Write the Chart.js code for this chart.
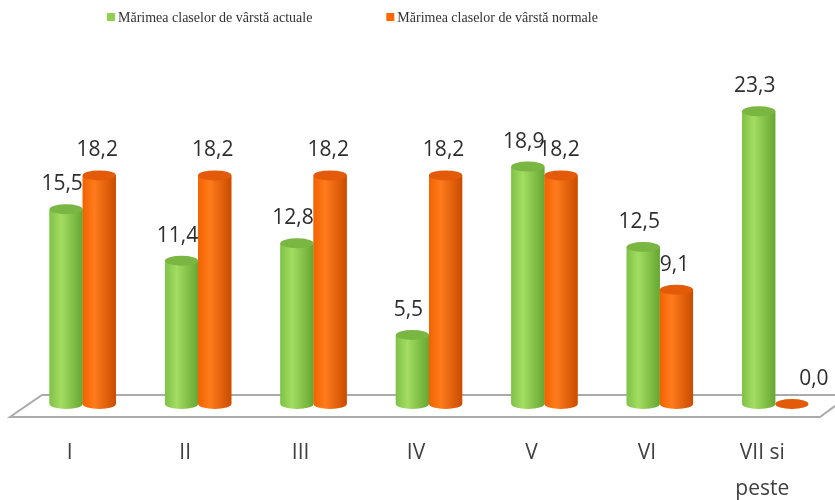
<!DOCTYPE html>
<html lang="ro">
<head>
    <meta charset="UTF-8">
    <title>Mărimea claselor de vârstă</title>
    <script src="https://cdn.jsdelivr.net/npm/chart.js"></script>
    <style>
        html, body { margin: 0; padding: 0; background: #fff; }
        #wrap { width: 835px; height: 500px; }
    </style>
</head>
<body>
    <div id="wrap"><canvas id="ageChart" width="835" height="500"></canvas></div>
    <script>
        // Data
        const categories = ['I', 'II', 'III', 'IV', 'V', 'VI', ['VII si', 'peste']];
        const actualSizes = [15.5, 11.4, 12.8, 5.5, 18.9, 12.5, 23.3];
        const normalSizes = [18.2, 18.2, 18.2, 18.2, 18.2, 9.1, 0.0];
        const seriesNames = ['Mărimea claselor de vârstă actuale', 'Mărimea claselor de vârstă normale'];

        // cylinder shades: [left edge, highlight, right edge, top cap]
        const shades = [
            ['#7fc147', '#a3dd62', '#67a632', '#7ab642'],
            ['#f26200', '#ff7b1c', '#c94c00', '#e35b08']
        ];
        const legendColors = ['#92d050', '#ff6600'];

        // floor + cylinders drawn over the bar elements
        const cylinders = {
            id: 'cylinders',
            beforeDatasetsDraw(chart) {
                const ctx = chart.ctx;
                const a = chart.chartArea;
                ctx.save();
                ctx.strokeStyle = '#ababab';
                ctx.lineWidth = 2;
                ctx.beginPath();
                ctx.moveTo(a.left + 17, a.bottom - 9);
                ctx.lineTo(a.right + 17, a.bottom - 9);
                ctx.lineTo(a.right - 13, a.bottom + 13);
                ctx.lineTo(a.left - 15, a.bottom + 13);
                ctx.closePath();
                ctx.fillStyle = '#ffffff';
                ctx.fill();
                ctx.stroke();
                ctx.restore();
            },
            afterDatasetsDraw(chart) {
                const ctx = chart.ctx;
                ctx.save();
                chart.data.datasets.forEach((ds, di) => {
                    const meta = chart.getDatasetMeta(di);
                    const s = shades[di];
                    meta.data.forEach((bar) => {
                        const w = bar.width, x0 = bar.x - w / 2, ry = 5;
                        const g = ctx.createLinearGradient(x0, 0, x0 + w, 0);
                        g.addColorStop(0, s[0]);
                        g.addColorStop(0.35, s[1]);
                        g.addColorStop(1, s[2]);
                        ctx.fillStyle = g;
                        if (bar.base - bar.y > 0.5) {
                            ctx.fillRect(x0, bar.y, w, bar.base - bar.y);
                            ctx.beginPath();
                            ctx.ellipse(bar.x, bar.base, w / 2, ry, 0, 0, Math.PI);
                            ctx.fill();
                        }
                        ctx.fillStyle = s[3];
                        ctx.beginPath();
                        ctx.ellipse(bar.x, bar.y, w / 2, ry, 0, 0, Math.PI * 2);
                        ctx.fill();
                    });
                });
                // value labels
                ctx.font = '21px "Open Sans", sans-serif';
                ctx.fillStyle = '#2e2e2e';
                ctx.textAlign = 'center';
                ctx.textBaseline = 'middle';
                chart.data.datasets.forEach((ds, di) => {
                    const meta = chart.getDatasetMeta(di);
                    meta.data.forEach((bar, i) => {
                        const txt = ds.data[i].toFixed(1).replace('.', ',');
                        const dx = di === 0 ? -4 : (ds.data[i] === 0 ? 22 : -2);
                        ctx.fillText(txt, bar.x + dx, bar.y - 25);
                    });
                });
                ctx.restore();
            },
            afterDraw(chart) {
                // legend
                const ctx = chart.ctx;
                ctx.save();
                ctx.font = '14px "Liberation Serif", serif';
                ctx.textBaseline = 'middle';
                let x = 107;
                seriesNames.forEach((name, i) => {
                    ctx.fillStyle = legendColors[i];
                    ctx.fillRect(x, 13, 8, 8);
                    ctx.fillStyle = '#333333';
                    ctx.fillText(name, x + 11, 18);
                    x += 11 + ctx.measureText(name).width + 74;
                });
                ctx.restore();
            }
        };

        const config = {
            type: 'bar',
            data: {
                labels: categories,
                datasets: [
                    { label: seriesNames[0], data: actualSizes, backgroundColor: legendColors[0] },
                    { label: seriesNames[1], data: normalSizes, backgroundColor: legendColors[1] }
                ]
            },
            options: {
                responsive: false,
                animation: false,
                layout: { padding: { left: 25, right: 2, top: 90, bottom: 0 } },
                datasets: { bar: { barPercentage: 1, categoryPercentage: 0.575 } },
                scales: {
                    x: {
                        grid: { display: false, drawTicks: false },
                        border: { display: false },
                        ticks: {
                            color: '#404040',
                            font: { family: '"Open Sans", sans-serif', size: 21, lineHeight: 1.7 },
                            padding: 31,
                            labelOffset: -13,
                            maxRotation: 0
                        },
                        afterFit(scale) { scale.height = 96; }
                    },
                    y: {
                        display: false,
                        min: 0,
                        max: 25
                    }
                },
                plugins: {
                    legend: { display: false },
                    tooltip: { enabled: false }
                }
            },
            plugins: [cylinders]
        };

        const myChart = new Chart(document.getElementById('ageChart'), config);
    </script>
</body>
</html>
